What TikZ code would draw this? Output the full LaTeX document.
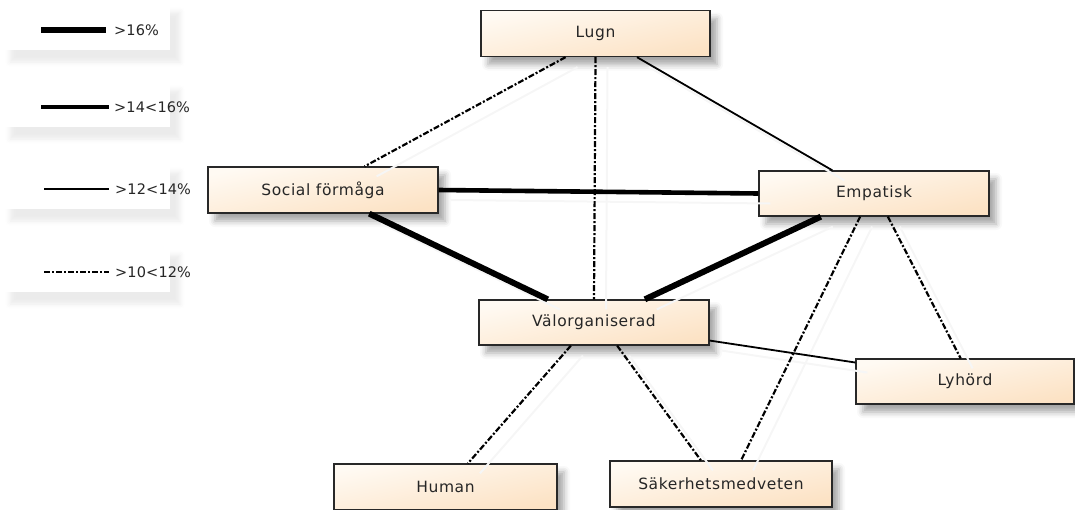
\documentclass[tikz,border=0pt]{standalone}
\usepackage{fontspec}
\setmainfont{DejaVu Sans}
\newfontfamily\boxfont[LetterSpace=4]{DejaVu Sans}
\newfontfamily\legfont[LetterSpace=1]{DejaVu Sans}
\usetikzlibrary{calc,shadows.blur}
\definecolor{peach}{RGB}{252,226,196}
\definecolor{peachlight}{RGB}{255,250,243}
\definecolor{edgec}{RGB}{40,40,40}
\tikzset{
  box/.style={draw=edgec, line width=1.3pt, top color=peachlight, bottom color=peach,
    shading angle=12, minimum height=46pt, inner sep=0pt,
    font=\boxfont\fontsize{15.5}{17}\selectfont, text=black!85,
    blur shadow={shadow xshift=7pt, shadow yshift=-8pt, shadow blur radius=6pt, shadow opacity=35}},
  legbox/.style={fill=white, draw=none,
    blur shadow={shadow xshift=10pt, shadow yshift=-12pt, shadow blur radius=5pt, shadow opacity=8}},
  legtext/.style={anchor=west, inner sep=0pt, font=\legfont\fontsize{14.5}{16}\selectfont, text=black!85},
  vthick/.style={line width=6pt},
  thickl/.style={line width=4.6pt},
  thinl/.style={line width=1.8pt},
  dd/.style={line width=2.2pt, dash pattern=on 6pt off 2pt on 2pt off 2pt},
  ghost/.style={draw=gray!7, line width=2pt, transform canvas={shift={(12pt,-10pt)}}},
}
\begin{document}
\begin{tikzpicture}[x=1pt,y=-1pt]
\useasboundingbox (0,0) rectangle (1075,509);

% legend
\fill[legbox] (0,0) rectangle (170,50);
\fill[legbox] (0,78) rectangle (170,127);
\fill[legbox] (0,160) rectangle (170,209);
\fill[legbox] (0,243) rectangle (170,292);
\coordinate (l1a) at (41,30); \coordinate (l1b) at (106,30);
\coordinate (l2a) at (41,107); \coordinate (l2b) at (109,107);
\coordinate (l3a) at (44,189); \coordinate (l3b) at (109,189);
\coordinate (l4a) at (44,272); \coordinate (l4b) at (109,272);
\draw[vthick] (l1a) -- (l1b);
\draw[thickl] (l2a) -- (l2b);
\draw[thinl] (l3a) -- (l3b);
\draw[dd] (l4a) -- (l4b);
\node[legtext] (t1) at (114,30) {>16\%};
\node[legtext] (t2) at (114,107) {>14<16\%};
\node[legtext] (t3) at (115,189) {>12<14\%};
\node[legtext] (t4) at (115,272) {>10<12\%};

% nodes
\node[box, minimum width=229pt] (lugn) at (595.5,33.5) {Lugn};
\node[box, minimum width=230pt] (social) at (323,190) {Social förmåga};
\node[box, minimum width=230pt, minimum height=45pt] (emp) at (874,193.5) {Empatisk};
\node[box, minimum width=230pt, minimum height=45pt] (valo) at (594,322.5) {Välorganiserad};
\node[box, minimum width=223pt] (human) at (445.5,487) {Human};
\node[box, minimum width=222pt] (sak) at (721,484) {Säkerhetsmedveten};
\node[box, minimum width=218pt, minimum height=45pt] (lyh) at (965,381.5) {Lyhörd};

% anchor points
\coordinate (lugnA) at ($(lugn.south west)!0.37!(lugn.south east)$);
\coordinate (lugnB) at ($(lugn.south west)!0.5!(lugn.south east)$);
\coordinate (lugnC) at ($(lugn.south west)!0.68!(lugn.south east)$);
\coordinate (socN) at ($(social.north west)!0.68!(social.north east)$);
\coordinate (socS) at ($(social.south west)!0.70!(social.south east)$);
\coordinate (empN) at ($(emp.north west)!0.32!(emp.north east)$);
\coordinate (empS1) at ($(emp.south west)!0.27!(emp.south east)$);
\coordinate (empS2) at ($(emp.south west)!0.44!(emp.south east)$);
\coordinate (empS3) at ($(emp.south west)!0.56!(emp.south east)$);
\coordinate (valN1) at ($(valo.north west)!0.30!(valo.north east)$);
\coordinate (valN2) at ($(valo.north west)!0.5!(valo.north east)$);
\coordinate (valN3) at ($(valo.north west)!0.72!(valo.north east)$);
\coordinate (valS1) at ($(valo.south west)!0.40!(valo.south east)$);
\coordinate (valS2) at ($(valo.south west)!0.60!(valo.south east)$);
\coordinate (valE) at ($(valo.north east)!0.89!(valo.south east)$);
\coordinate (lyhW) at ($(lyh.north west)!0.09!(lyh.south west)$);
\coordinate (lyhN) at ($(lyh.north west)!0.48!(lyh.north east)$);
\coordinate (humN) at ($(human.north west)!0.60!(human.north east)$);
\coordinate (sakN1) at ($(sak.north west)!0.41!(sak.north east)$);
\coordinate (sakN2) at ($(sak.north west)!0.59!(sak.north east)$);

% ghost shadows of connectors
\draw[ghost] (lugnA) -- (socN);
\draw[ghost] (lugnB) -- (valN2);
\draw[ghost] (lugnC) -- (empN);
\draw[ghost] (social.east) -- (emp.west);
\draw[ghost] (socS) -- (valN1);
\draw[ghost] (empS1) -- (valN3);
\draw[ghost] (valE) -- (lyhW);
\draw[ghost] (empS3) -- (lyhN);
\draw[ghost] (empS2) -- (sakN2);
\draw[ghost] (valS1) -- (humN);
\draw[ghost] (valS2) -- (sakN1);

% connectors
\draw[dd] (lugnA) -- (socN);
\draw[dd] (lugnB) -- (valN2);
\draw[thinl] (lugnC) -- (empN);
\draw[thickl] (social.east) -- (emp.west);
\draw[vthick] (socS) -- (valN1);
\draw[vthick] (empS1) -- (valN3);
\draw[thinl] (valE) -- (lyhW);
\draw[dd] (empS3) -- (lyhN);
\draw[dd] (empS2) -- (sakN2);
\draw[dd] (valS1) -- (humN);
\draw[dd] (valS2) -- (sakN1);
\end{tikzpicture}
\end{document}
